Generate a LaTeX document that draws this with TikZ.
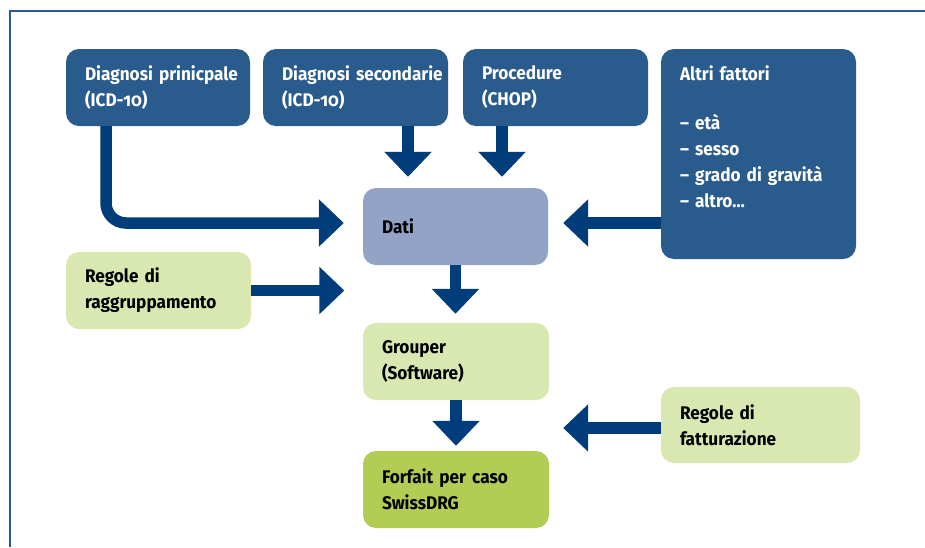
\documentclass[tikz,border=0pt]{standalone}
\usepackage{fontspec}
\setmainfont{Fira Sans}[Numbers=OldStyle, FakeStretch=0.94]
\usepackage{tikz}
\usetikzlibrary{arrows.meta}

\definecolor{boxblue}{RGB}{42,91,141}
\definecolor{flowblue}{RGB}{0,61,122}
\definecolor{datiblue}{RGB}{147,163,198}
\definecolor{palegreen}{RGB}{217,231,177}
\definecolor{drggreen}{RGB}{178,204,84}

\hyphenpenalty=10000

\begin{document}
\begin{tikzpicture}[x=1pt, y=-1pt,
	box/.style={shape=rectangle, rounded corners=13pt, inner xsep=19pt, align=left,
		font=\fontsize{18.3}{26}\selectfont\bfseries, minimum height=77pt},
	darkbox/.style={box, fill=boxblue, text=white},
	lightbox/.style={box, fill=palegreen, text=black},
	flow/.style={draw=flowblue, line width=11.5pt, -{Triangle[width=46pt,length=25pt]}}]
	
	\useasboundingbox (0,0) rectangle (925,547);
	\draw[boxblue, line width=1.3pt] (925,11) -| (10,547);
	
	\node[darkbox, text width=146pt] (dia1) at (158, 87.5)    {Diagnosi~prinicpale\\(ICD-10)};
	\node[darkbox, text width=147pt] (dia2) at (355.5, 87.5)  {Diagnosi~secondarie\\(ICD-10)};
	\node[darkbox, text width=147pt] (proc) at (555.5, 87.5)  {Procedure\\(CHOP)};
	\node[darkbox, text width=157pt, minimum height=210pt, text height=13.5pt, text depth=161.5pt] (altri) at (758.5, 154)
		{Altri fattori\\[23pt]– età\\– sesso\\– grado di gravità\\– altro…};
	\node[box, fill=datiblue, text width=147pt] (dati) at (455.5, 226.5)  {Dati};
	\node[lightbox, text width=147pt] (raggr) at (158.5, 290.5)   {Regole di\\raggruppamento};
	\node[lightbox, text width=148pt] (grouper) at (456, 361.5)   {Grouper\\(Software)};
	\node[lightbox, text width=161pt, minimum height=76pt] (fatt) at (760.5, 425)  {Regole di\\fatturazione};
	\node[box, fill=drggreen, text width=148pt] (forfait) at (456, 489.5)  {Forfait per caso\\SwissDRG};
	
	\coordinate (datiin) at ([yshift=3.5pt]dati.east);
	\coordinate (raggrend) at (raggr.east -| dati.west);
	
	\draw[flow, rounded corners=20pt, shorten >=19pt] ([xshift=-52pt]dia1.south) |- ([yshift=3.5pt]dati.west);
	\path ([xshift=52.5pt]dia2.south) edge[flow, shorten >=11pt] ([xshift=52.5pt]dia2.south |- dati.north);
	\path ([xshift=-53.5pt]proc.south) edge[flow, shorten >=11pt] ([xshift=-53.5pt]proc.south |- dati.north);
	\path (datiin -| altri.west) edge[flow, shorten >=15pt] (datiin);
	\path (raggr.east) edge[flow, shorten >=18.5pt] (raggrend);
	\path (dati.south) edge[flow, shorten >=9pt] (dati.south |- grouper.north);
	\path (grouper.south) edge[flow, shorten >=5pt] (grouper.south |- forfait.north);
	\path ([yshift=-3pt]fatt.west) edge[flow, shorten >=14pt] ([yshift=-3pt]fatt.west -| grouper.east);

\end{tikzpicture}
\end{document}
